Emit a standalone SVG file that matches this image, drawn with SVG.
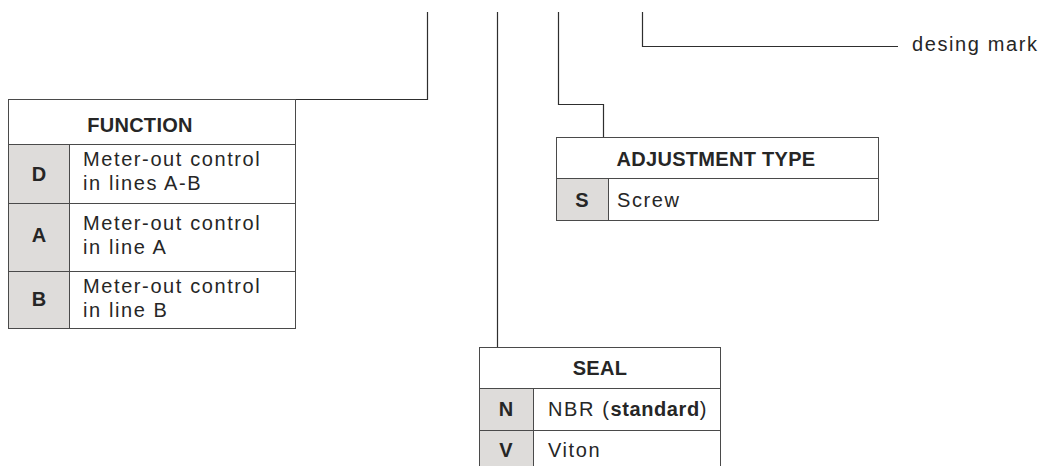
<svg xmlns="http://www.w3.org/2000/svg" width="1040" height="466" viewBox="0 0 1040 466">
<style>
.bg{fill:#ffffff}
.cell{fill:#ffffff;stroke:#4a4a4a;stroke-width:1}
.code{fill:#dedcda;stroke:#4a4a4a;stroke-width:1}
.conn{fill:none;stroke:#2e2e2e;stroke-width:1.2}
.t{font-family:"Liberation Sans",Arial,sans-serif;font-size:20px;letter-spacing:1.6px;fill:#262626}
.b{font-family:"Liberation Sans",Arial,sans-serif;font-size:20px;font-weight:bold;letter-spacing:0.3px;fill:#262626}
.c{text-anchor:middle}
</style>
<rect class="bg" x="0" y="0" width="1040" height="466"/>
<g id="connectors">
<path class="conn" d="M427.5,12 V99.5 H296"/>
<path class="conn" d="M497.5,12 V347"/>
<path class="conn" d="M558.5,12 V104.5 H603.5 V137"/>
<path class="conn" d="M642.5,12 V46.5 H898"/>
</g>
<g id="design-mark">
<text class="t" x="912" y="51">desing mark</text>
</g>
<g id="function">
<rect class="cell" x="8.5" y="99.5" width="287" height="45"/>
<rect class="code" x="8.5" y="144.5" width="61" height="59"/>
<rect class="cell" x="69.5" y="144.5" width="226" height="59"/>
<rect class="code" x="8.5" y="203.5" width="61" height="68"/>
<rect class="cell" x="69.5" y="203.5" width="226" height="68"/>
<rect class="code" x="8.5" y="271.5" width="61" height="57"/>
<rect class="cell" x="69.5" y="271.5" width="226" height="57"/>
<text class="b c" x="140" y="132">FUNCTION</text>
<text class="b c" x="39" y="181">D</text>
<text class="t" x="83" y="166">Meter-out control</text>
<text class="t" x="83" y="190">in lines A-B</text>
<text class="b c" x="39" y="242">A</text>
<text class="t" x="83" y="230">Meter-out control</text>
<text class="t" x="83" y="254">in line A</text>
<text class="b c" x="39" y="306">B</text>
<text class="t" x="83" y="293">Meter-out control</text>
<text class="t" x="83" y="317">in line B</text>
</g>
<g id="adjustment-type">
<rect class="cell" x="556.5" y="137.5" width="322" height="41"/>
<rect class="code" x="556.5" y="178.5" width="52" height="42"/>
<rect class="cell" x="608.5" y="178.5" width="270" height="42"/>
<text class="b c" x="716" y="166">ADJUSTMENT TYPE</text>
<text class="b c" x="582" y="207">S</text>
<text class="t" x="617" y="207">Screw</text>
</g>
<g id="seal">
<rect class="cell" x="479.5" y="347.5" width="241" height="41"/>
<rect class="code" x="479.5" y="388.5" width="54" height="42"/>
<rect class="cell" x="533.5" y="388.5" width="187" height="42"/>
<rect class="code" x="479.5" y="430.5" width="54" height="42"/>
<rect class="cell" x="533.5" y="430.5" width="187" height="42"/>
<text class="b c" x="600" y="375">SEAL</text>
<text class="b c" x="506" y="416">N</text>
<text class="t" x="548" y="416">NBR (<tspan font-weight="bold" letter-spacing="0.6px">standard</tspan>)</text>
<text class="b c" x="506" y="457">V</text>
<text class="t" x="548" y="457">Viton</text>
</g>
</svg>
